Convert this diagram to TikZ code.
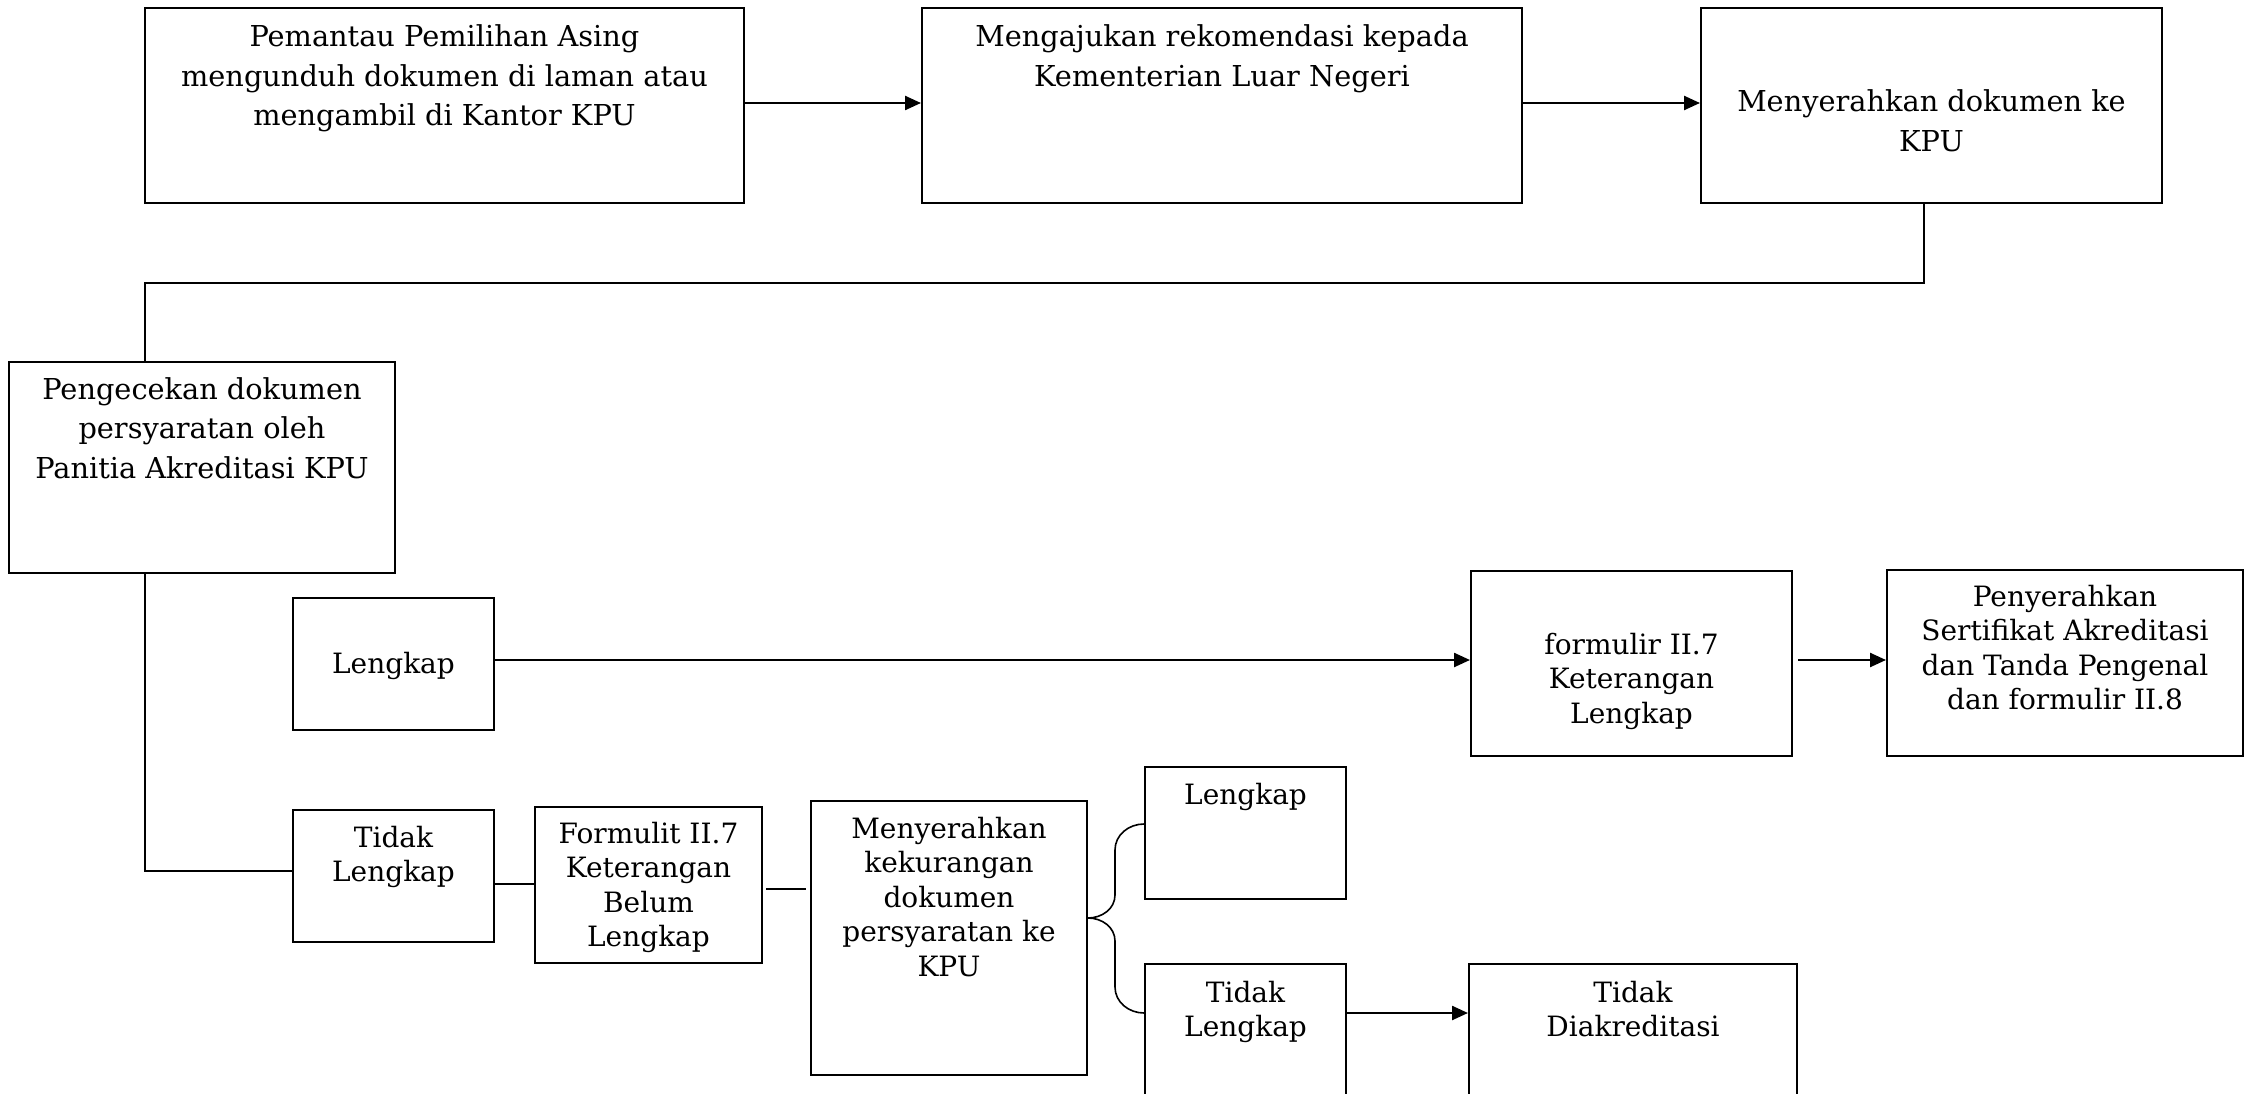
\documentclass[tikz,border=0pt]{standalone}
\usepackage{fontspec}
\setmainfont{DejaVu Serif}
\usetikzlibrary{arrows.meta,calc}
\tikzset{
  box/.style={draw, line width=2pt, inner sep=0pt, rectangle},
  link/.style={line width=2pt},
  thinlink/.style={line width=1.6pt},
  arr/.style={line width=2.4pt, -{Triangle[length=16pt,width=14pt]}},
  txt/.style={anchor=base, inner sep=0pt}
}
\newcommand\mybox[5]{\node[box, minimum width={(#4-#2)*1pt}, minimum height={(#5-#3)*1pt}] (#1) at ({(#2+#4)/2},{(#3+#5)/2}) {};}
\newcommand\mytext[4]{\node[txt] (#1) at ($(#2.north)+(0,#3)$) {\begin{tabular}[t]{@{}c@{}}#4\end{tabular}};}
\begin{document}
\begin{tikzpicture}[x=1pt,y=-1pt]
\useasboundingbox (0,0) rectangle (2256,1094);
\clip (0,0) rectangle (2256,1094);
% boxes
\mybox{b1}{145}{8}{744}{203}
\mybox{b2}{922}{8}{1522}{203}
\mybox{b3}{1701}{8}{2162}{203}
\mybox{b4}{9}{362}{395}{573}
\mybox{l1}{293}{598}{494}{730}
\mybox{t1}{293}{810}{494}{942}
\mybox{f1}{535}{807}{762}{963}
\mybox{m1}{811}{801}{1087}{1075}
\mybox{l2}{1145}{767}{1346}{899}
\mybox{t2}{1145}{964}{1346}{1130}
\mybox{d1}{1469}{964}{1797}{1130}
\mybox{fm}{1471}{571}{1792}{756}
\mybox{p1}{1887}{570}{2243}{756}
% texts
\begingroup
\fontsize{28.8}{39.5}\selectfont
\mytext{b1t}{b1}{40}{Pemantau Pemilihan Asing\\mengunduh dokumen di laman atau\\mengambil di Kantor KPU}
\mytext{b2t}{b2}{40}{Mengajukan rekomendasi kepada\\Kementerian Luar Negeri}
\mytext{b3t}{b3}{105}{Menyerahkan dokumen ke\\KPU}
\mytext{b4t}{b4}{38}{Pengecekan dokumen\\persyaratan oleh\\Panitia Akreditasi KPU}
\endgroup
\begingroup
\fontsize{28}{34.5}\selectfont
\mytext{l1t}{l1}{76}{Lengkap}
\mytext{t1t}{t1}{38}{Tidak\\Lengkap}
\mytext{f1t}{f1}{37}{Formulit II.7\\Keterangan\\Belum\\Lengkap}
\mytext{m1t}{m1}{38}{Menyerahkan\\kekurangan\\dokumen\\persyaratan ke\\KPU}
\mytext{fmt}{fm}{84}{formulir II.7\\Keterangan\\Lengkap}
\mytext{p1t}{p1}{37}{Penyerahkan\\Sertifikat Akreditasi\\dan Tanda Pengenal\\dan formulir II.8}
\mytext{l2t}{l2}{38}{Lengkap}
\mytext{t2t}{t2}{39}{Tidak\\Lengkap}
\mytext{d1t}{d1}{39}{Tidak\\Diakreditasi}
\endgroup
% connectors
\draw[arr] (b1.east |- 0,103) -- (b2.west |- 0,103);
\draw[arr] (b2.east |- 0,103) -- (b3.west |- 0,103);
\coordinate (c1) at (1924,283);
\coordinate (c2) at (145,283);
\draw[thinlink] (b3.south -| c1) -- (c1) -- (c2) -- (b4.north -| c2);
\coordinate (c3) at (145,871);
\draw[thinlink] (b4.south -| c3) -- (c3) -- (t1.west |- c3);
\draw[arr] (l1.east |- 0,660) -- (fm.west |- 0,660);
\draw[arr] ([xshift=5pt]fm.east |- 0,660) -- (p1.west |- 0,660);
\draw[link] (t1.east |- 0,884) -- (f1.west |- 0,884);
\coordinate (s1) at (766,889);
\coordinate (s2) at (806,889);
\draw[link] (s1) -- (s2);
\coordinate (k0) at (m1.east |- 0,918);
\coordinate (k1) at (l2.west |- 0,824);
\coordinate (k2) at (t2.west |- 0,1013);
\draw[thinlink] (k0) to[out=0,in=-90] (1115,895) -- (1115,850) to[out=90,in=180] (k1);
\draw[thinlink] (k0) to[out=0,in=90] (1115,941) -- (1115,987) to[out=-90,in=180] (k2);
\draw[arr] (k2 -| t2.east) -- (d1.west |- k2);
\end{tikzpicture}
\end{document}
